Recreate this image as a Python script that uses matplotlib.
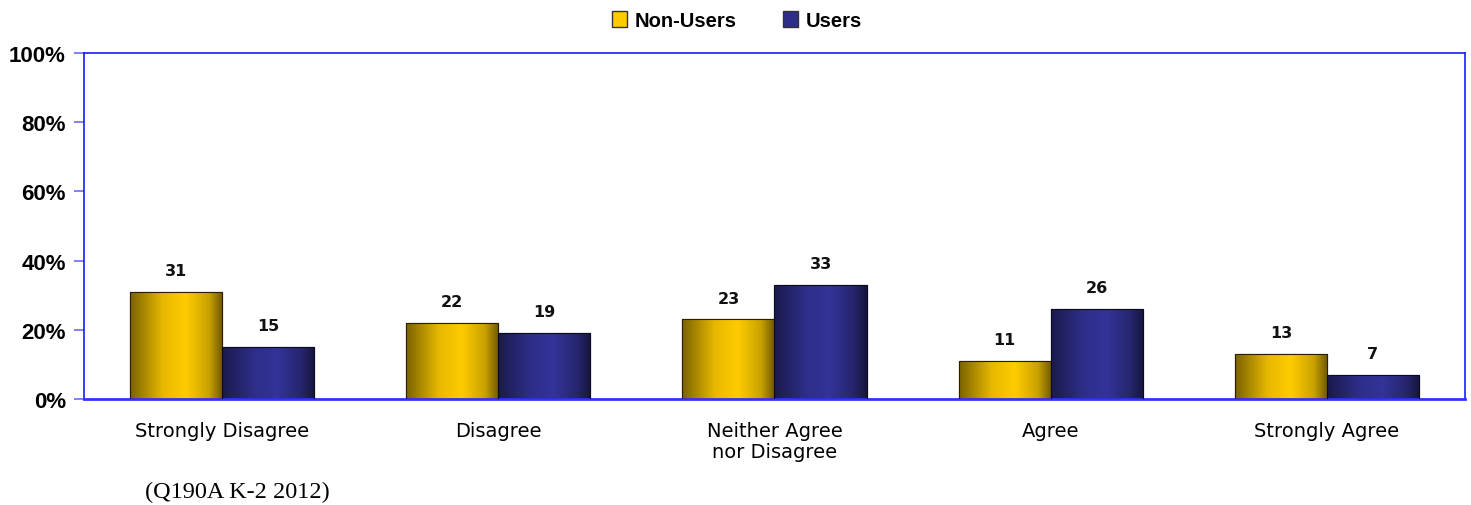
import numpy as np
import matplotlib
matplotlib.use("Agg")
import matplotlib.pyplot as plt
from matplotlib.colors import LinearSegmentedColormap
from matplotlib.patches import Patch

categories = ["Strongly Disagree", "Disagree", "Neither Agree\nnor Disagree", "Agree", "Strongly Agree"]
non_users = [31, 22, 23, 11, 13]
users = [15, 19, 33, 26, 7]
series_names = ["Non-Users", "Users"]
yticks = [0, 20, 40, 60, 80, 100]
ytick_labels = ["0%", "20%", "40%", "60%", "80%", "100%"]

fig = plt.figure(figsize=(14.71, 5.06), dpi=100)
ax = fig.add_axes([0.0571, 0.2095, 0.9388, 0.6838])

gold_cmap = LinearSegmentedColormap.from_list(
    "gold", [(0, "#7a6200"), (0.35, "#e6b800"), (0.6, "#ffcc00"), (0.85, "#c9a200"), (1, "#6e5700")])
blue_cmap = LinearSegmentedColormap.from_list(
    "blue", [(0, "#1a1a4d"), (0.35, "#2e2e8a"), (0.6, "#333399"), (0.85, "#262670"), (1, "#15153d")])

x = np.arange(len(categories))
w = 1 / 3
bars_n = ax.bar(x - w / 2, non_users, w, color="#ffcc00", edgecolor="#2a2000", linewidth=0.8, zorder=2)
bars_u = ax.bar(x + w / 2, users, w, color="#333399", edgecolor="#0a0a20", linewidth=0.8, zorder=2)

grad = np.linspace(0, 1, 256).reshape(1, -1)
for bars, cmap in ((bars_n, gold_cmap), (bars_u, blue_cmap)):
    for b in bars:
        bx, by = b.get_x(), b.get_y()
        bw, bh = b.get_width(), b.get_height()
        im = ax.imshow(grad, cmap=cmap, aspect="auto", extent=(bx, bx + bw, by, by + bh), zorder=2.5)
        im.set_clip_path(b)
        ax.bar(bx + bw / 2, bh, bw, fill=False, edgecolor=b.get_edgecolor(), linewidth=0.8, zorder=3)

for xs, vals in ((x - w / 2, non_users), (x + w / 2, users)):
    for xi, v in zip(xs, vals):
        ax.text(xi, v + 4, str(v), ha="center", va="bottom", fontsize=11.5, fontweight="bold",
                family="DejaVu Sans", color="#111111")

ax.set_xlim(-0.5, len(categories) - 0.5)
ax.set_ylim(0, 100)
ax.set_yticks(yticks)
ax.set_yticklabels(ytick_labels, fontsize=16, fontweight="bold", family="Liberation Sans")
ax.set_xticks(x)
ax.set_xticklabels(categories, fontsize=14, family="DejaVu Sans", linespacing=1.1)
ax.tick_params(axis="x", length=0, pad=16)
ax.tick_params(axis="y", length=7, color="#6a6aff", width=1.2, pad=6)
for s in ax.spines.values():
    s.set_color("#1a1aff")
    s.set_linewidth(1.2)
ax.spines["bottom"].set_linewidth(2)
ax.spines["bottom"].set_color("#3333ff")

handles = [Patch(facecolor="#ffcc00", edgecolor="#333333"), Patch(facecolor="#2e2e8a", edgecolor="#333333")]
fig.legend(handles, series_names, loc="center", bbox_to_anchor=(0.501, 0.958), ncol=2, frameon=False,
           prop={"family": "Liberation Sans", "weight": "bold", "size": 14.5},
           handlelength=0.75, handleheight=0.85, handletextpad=0.4, columnspacing=2.3)

fig.text(145 / 1471, 1 - 492 / 506, "(Q190A K-2 2012)", family="Liberation Serif", fontsize=17.5,
         ha="left", va="center")

fig.savefig("out.png", dpi=100)
